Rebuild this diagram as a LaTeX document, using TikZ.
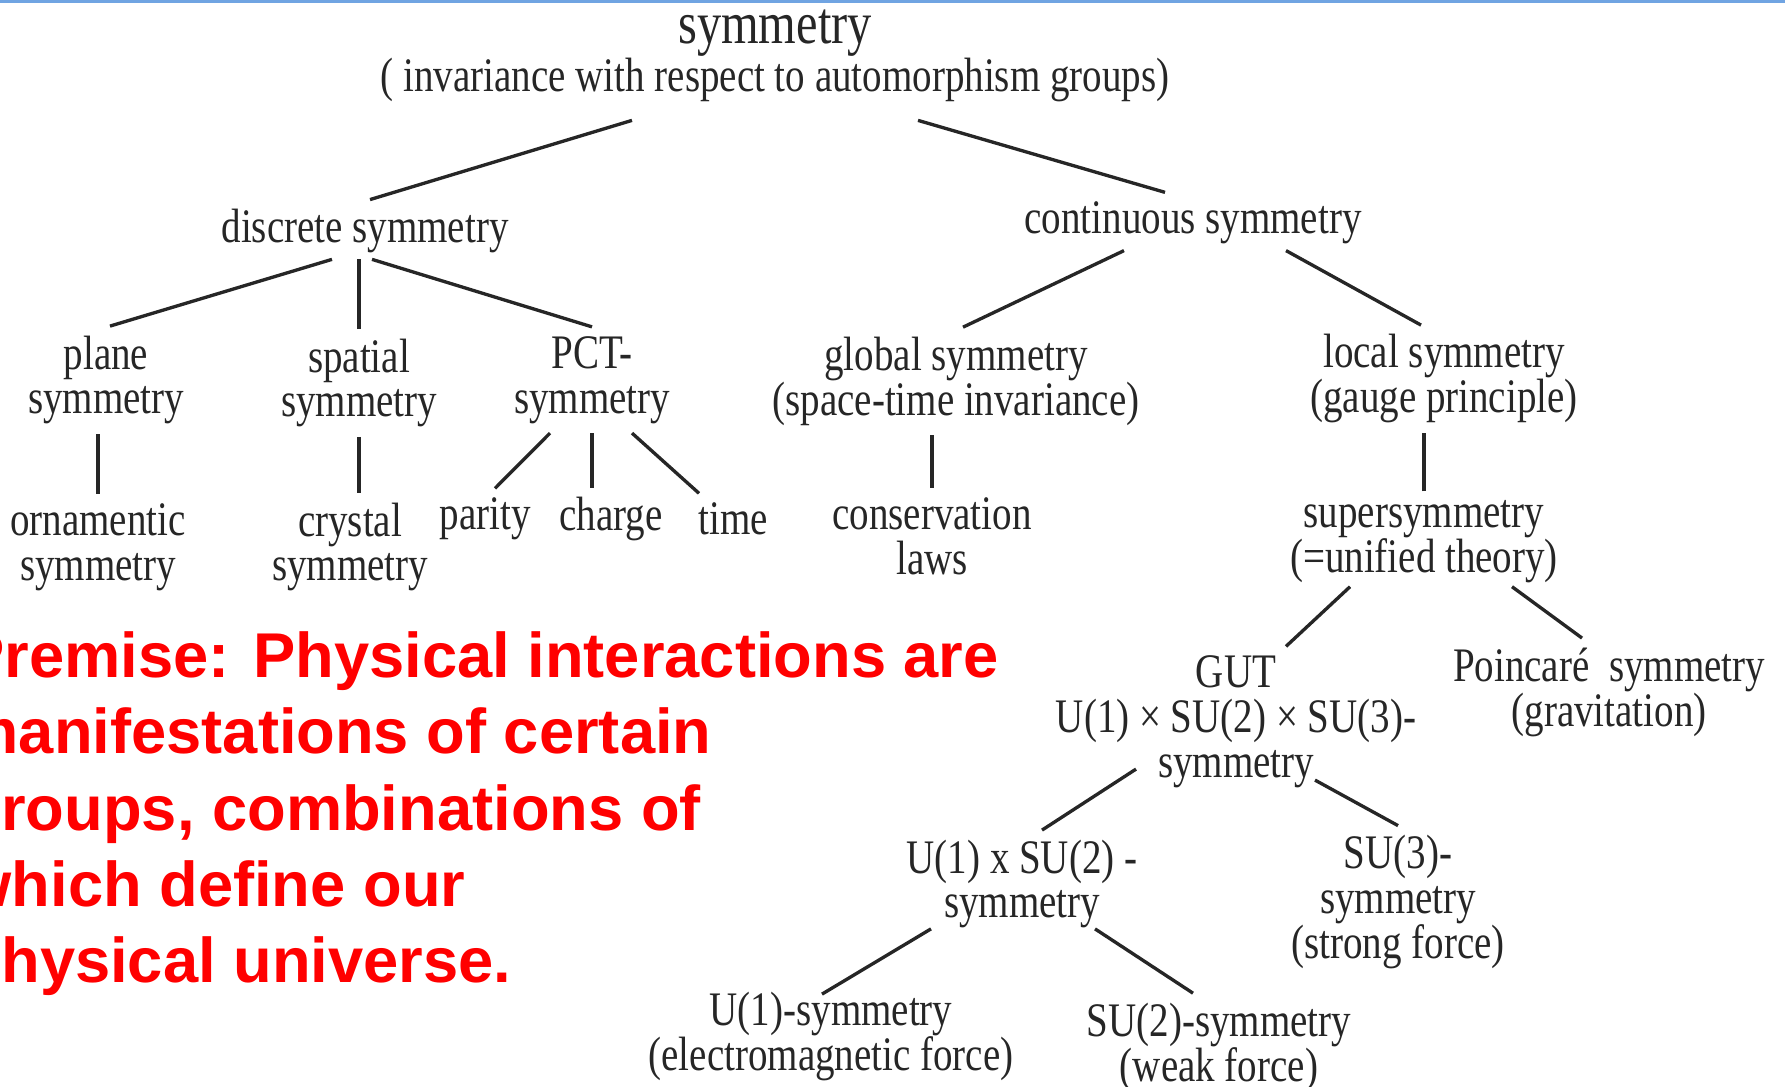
\documentclass[tikz,border=0pt]{standalone}
\usepackage{fontspec}
\usepackage{tikz}
\newfontfamily\scanfont[FakeStretch=0.81]{Liberation Serif}
\newfontfamily\slidefont{Liberation Sans}
\definecolor{ScanInk}{RGB}{38,38,38}
\definecolor{SlideRed}{RGB}{255,0,0}
\definecolor{SlideBlue}{RGB}{112,164,226}
\setlength{\lineskiplimit}{-20pt}

\begin{document}
\begin{tikzpicture}[
    font=\scanfont\fontsize{13.7}{12.8}\selectfont,
    entry/.style={
        align=center,
        inner sep=2.5pt,
        text=ScanInk
    },
    link/.style={
        draw=ScanInk,
        line width=0.95pt
    },
    premise/.style={
        align=left,
        inner sep=0pt,
        anchor=north west,
        text=SlideRed,
        font=\slidefont\bfseries\fontsize{18}{21.7}\selectfont
    }
]
\useasboundingbox (0,0) rectangle (17.85,10.86);
\clip (0,0) rectangle (17.85,10.86);
\fill[SlideBlue] (0,10.83) rectangle (17.85,10.86);

\node[entry] (root) at (7.75,10.30) {{\fontsize{17}{17}\selectfont symmetry}\\[0.8pt]( invariance with respect to automorphism groups)};

\node[entry] (disc) at (3.65,8.55) {discrete symmetry};
\node[entry] (cont) at (11.93,8.63) {continuous symmetry};

\node[entry] (plane) at (1.06,7.06) {plane\\symmetry};
\node[entry] (spatial) at (3.59,7.03) {spatial\\symmetry};
\node[entry] (pct) at (5.92,7.06) {PCT-\\symmetry};
\node[entry] (global) at (9.56,7.05) {global symmetry\\(space-time invariance)};
\node[entry] (local) at (14.44,7.07) {local symmetry\\(gauge principle)};

\node[entry] (orna) at (0.98,5.39) {ornamentic\\symmetry};
\node[entry] (crystal) at (3.50,5.39) {crystal\\symmetry};
\node[entry] (parity) at (4.85,5.67) {parity};
\node[entry] (charge) at (6.11,5.67) {charge};
\node[entry] (time) at (7.33,5.67) {time};
\node[entry] (cons) at (9.32,5.50) {conservation\\laws};
\node[entry] (super) at (14.24,5.44) {supersymmetry\\(=unified theory)};

\node[entry] (gut) at (12.36,3.64) {GUT\\U(1) × SU(2) × SU(3)-\\symmetry};
\node[entry] (poinc) at (16.09,3.94) {Poincaré~ symmetry\\(gravitation)};

\node[entry] (u1su2) at (10.22,2.02) {U(1) x SU(2) -\\symmetry};
\node[entry] (su3) at (13.98,1.84) {SU(3)-\\symmetry\\(strong force)};

\node[entry] (u1) at (8.31,0.50) {U(1)-symmetry\\(electromagnetic force)};
\node[entry] (su2) at (12.19,0.39) {SU(2)-symmetry\\(weak force)};

\node[premise] (claim) at (-0.38,4.55) {Premise: Physical interactions are\\manifestations of certain\\groups, combinations of\\which define our\\physical universe.};

% top levels
\draw[link] ([xshift=-1.43cm,yshift=-0.9mm]root.south) -- ([xshift=0.5mm]disc.north);
\draw[link] ([xshift=1.43cm,yshift=-0.9mm]root.south) -- ([xshift=-2.8mm]cont.north);

% discrete branch
\draw[link] ([xshift=-3.3mm,yshift=0.3mm]disc.south) -- ([xshift=0.4mm]plane.north);
\draw[link] (spatial.north) -- ([yshift=0.3mm]spatial.north |- disc.south);
\draw[link] ([xshift=0.7mm,yshift=0.3mm]disc.south) -- (pct.north);
\draw[link] (orna.north) -- (orna.north |- plane.south);
\draw[link] (spatial.south) -- (spatial.south |- crystal.north);
\draw[link] ([xshift=-4.2mm]pct.south) -- ([xshift=1mm]parity.north);
\draw[link] (pct.south) -- (pct.south |- charge.north);
\draw[link] ([xshift=4mm]pct.south) -- ([xshift=-3.4mm]time.north);

% continuous branch
\draw[link] ([xshift=-6.9mm,yshift=0.3mm]cont.south) -- ([xshift=0.7mm]global.north);
\draw[link] ([xshift=9.3mm,yshift=0.3mm]cont.south) -- ([xshift=-2.3mm]local.north);
\draw[link] (cons.north) -- (cons.north |- global.south);
\draw[link] (super.north) -- (super.north |- local.south);
\draw[link] ([xshift=-7.4mm,yshift=0.6mm]super.south) -- ([xshift=5mm]gut.north);
\draw[link] ([xshift=8.8mm,yshift=0.6mm]super.south) -- ([xshift=-2.7mm]poinc.north);

% GUT branch
\draw[link] ([xshift=-10mm,yshift=2.85mm]gut.south) -- ([xshift=2mm]u1su2.north);
\draw[link] ([xshift=7.9mm,yshift=1.75mm]gut.south) -- (su3.north);
\draw[link] ([xshift=-9.1mm,yshift=0.9mm]u1su2.south) -- ([xshift=-0.9mm,yshift=-1.2mm]u1.north);
\draw[link] ([xshift=7.3mm,yshift=0.9mm]u1su2.south) -- ([xshift=-2.6mm]su2.north);

\end{tikzpicture}
\end{document}
